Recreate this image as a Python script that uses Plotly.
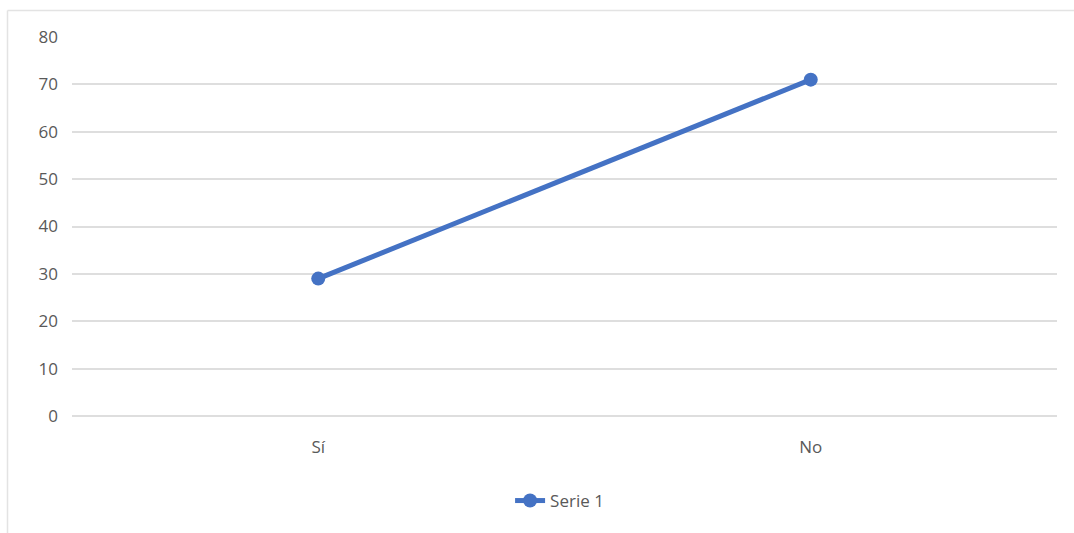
import plotly.graph_objects as go

categories = ["Sí", "No"]
serie_1 = [29, 71]
y_ticks = [0, 10, 20, 30, 40, 50, 60, 70, 80]

W, H = 1074, 533
L, R, T, B = 72, 17, 37, 117
pw, ph = W - L - R, H - T - B

def px_x(x):
    return (x - L) / pw

def px_y(y):
    return (H - B - y) / ph

fig = go.Figure()
fig.add_trace(go.Scatter(
    x=categories, y=serie_1, mode="lines+markers", name="Serie 1",
    line=dict(color="#4472C4", width=5),
    marker=dict(color="#4472C4", size=14),
))

grey = "#595959"
grid = "#dedede"
fig.update_layout(
    width=W, height=H,
    margin=dict(l=L, r=R, t=T, b=B),
    paper_bgcolor="white", plot_bgcolor="white",
    font=dict(family="Open Sans", size=17, color=grey),
    showlegend=True,
    legend=dict(orientation="h", x=0.495, xanchor="center", y=px_y(501), yanchor="middle",
                font=dict(size=17, color=grey)),
    xaxis=dict(type="category", range=[-0.5, 1.5], showgrid=False, zeroline=False,
               showline=False, ticks="", ticklabelstandoff=19),
    yaxis=dict(range=[0, 80], tickvals=y_ticks, showgrid=True, gridcolor=grid,
               gridwidth=2, zeroline=True, zerolinecolor=grid, zerolinewidth=2,
               showline=False, ticks="", ticklabelstandoff=13),
    shapes=[
        dict(type="line", xref="paper", yref="paper", x0=px_x(7.5), x1=px_x(1080),
             y0=px_y(10.5), y1=px_y(10.5), line=dict(color="#e3e3e3", width=1.5)),
        dict(type="line", xref="paper", yref="paper", x0=px_x(7.5), x1=px_x(7.5),
             y0=px_y(10.5), y1=px_y(540), line=dict(color="#e3e3e3", width=1.5)),
    ],
)

fig.write_html("out.html")
